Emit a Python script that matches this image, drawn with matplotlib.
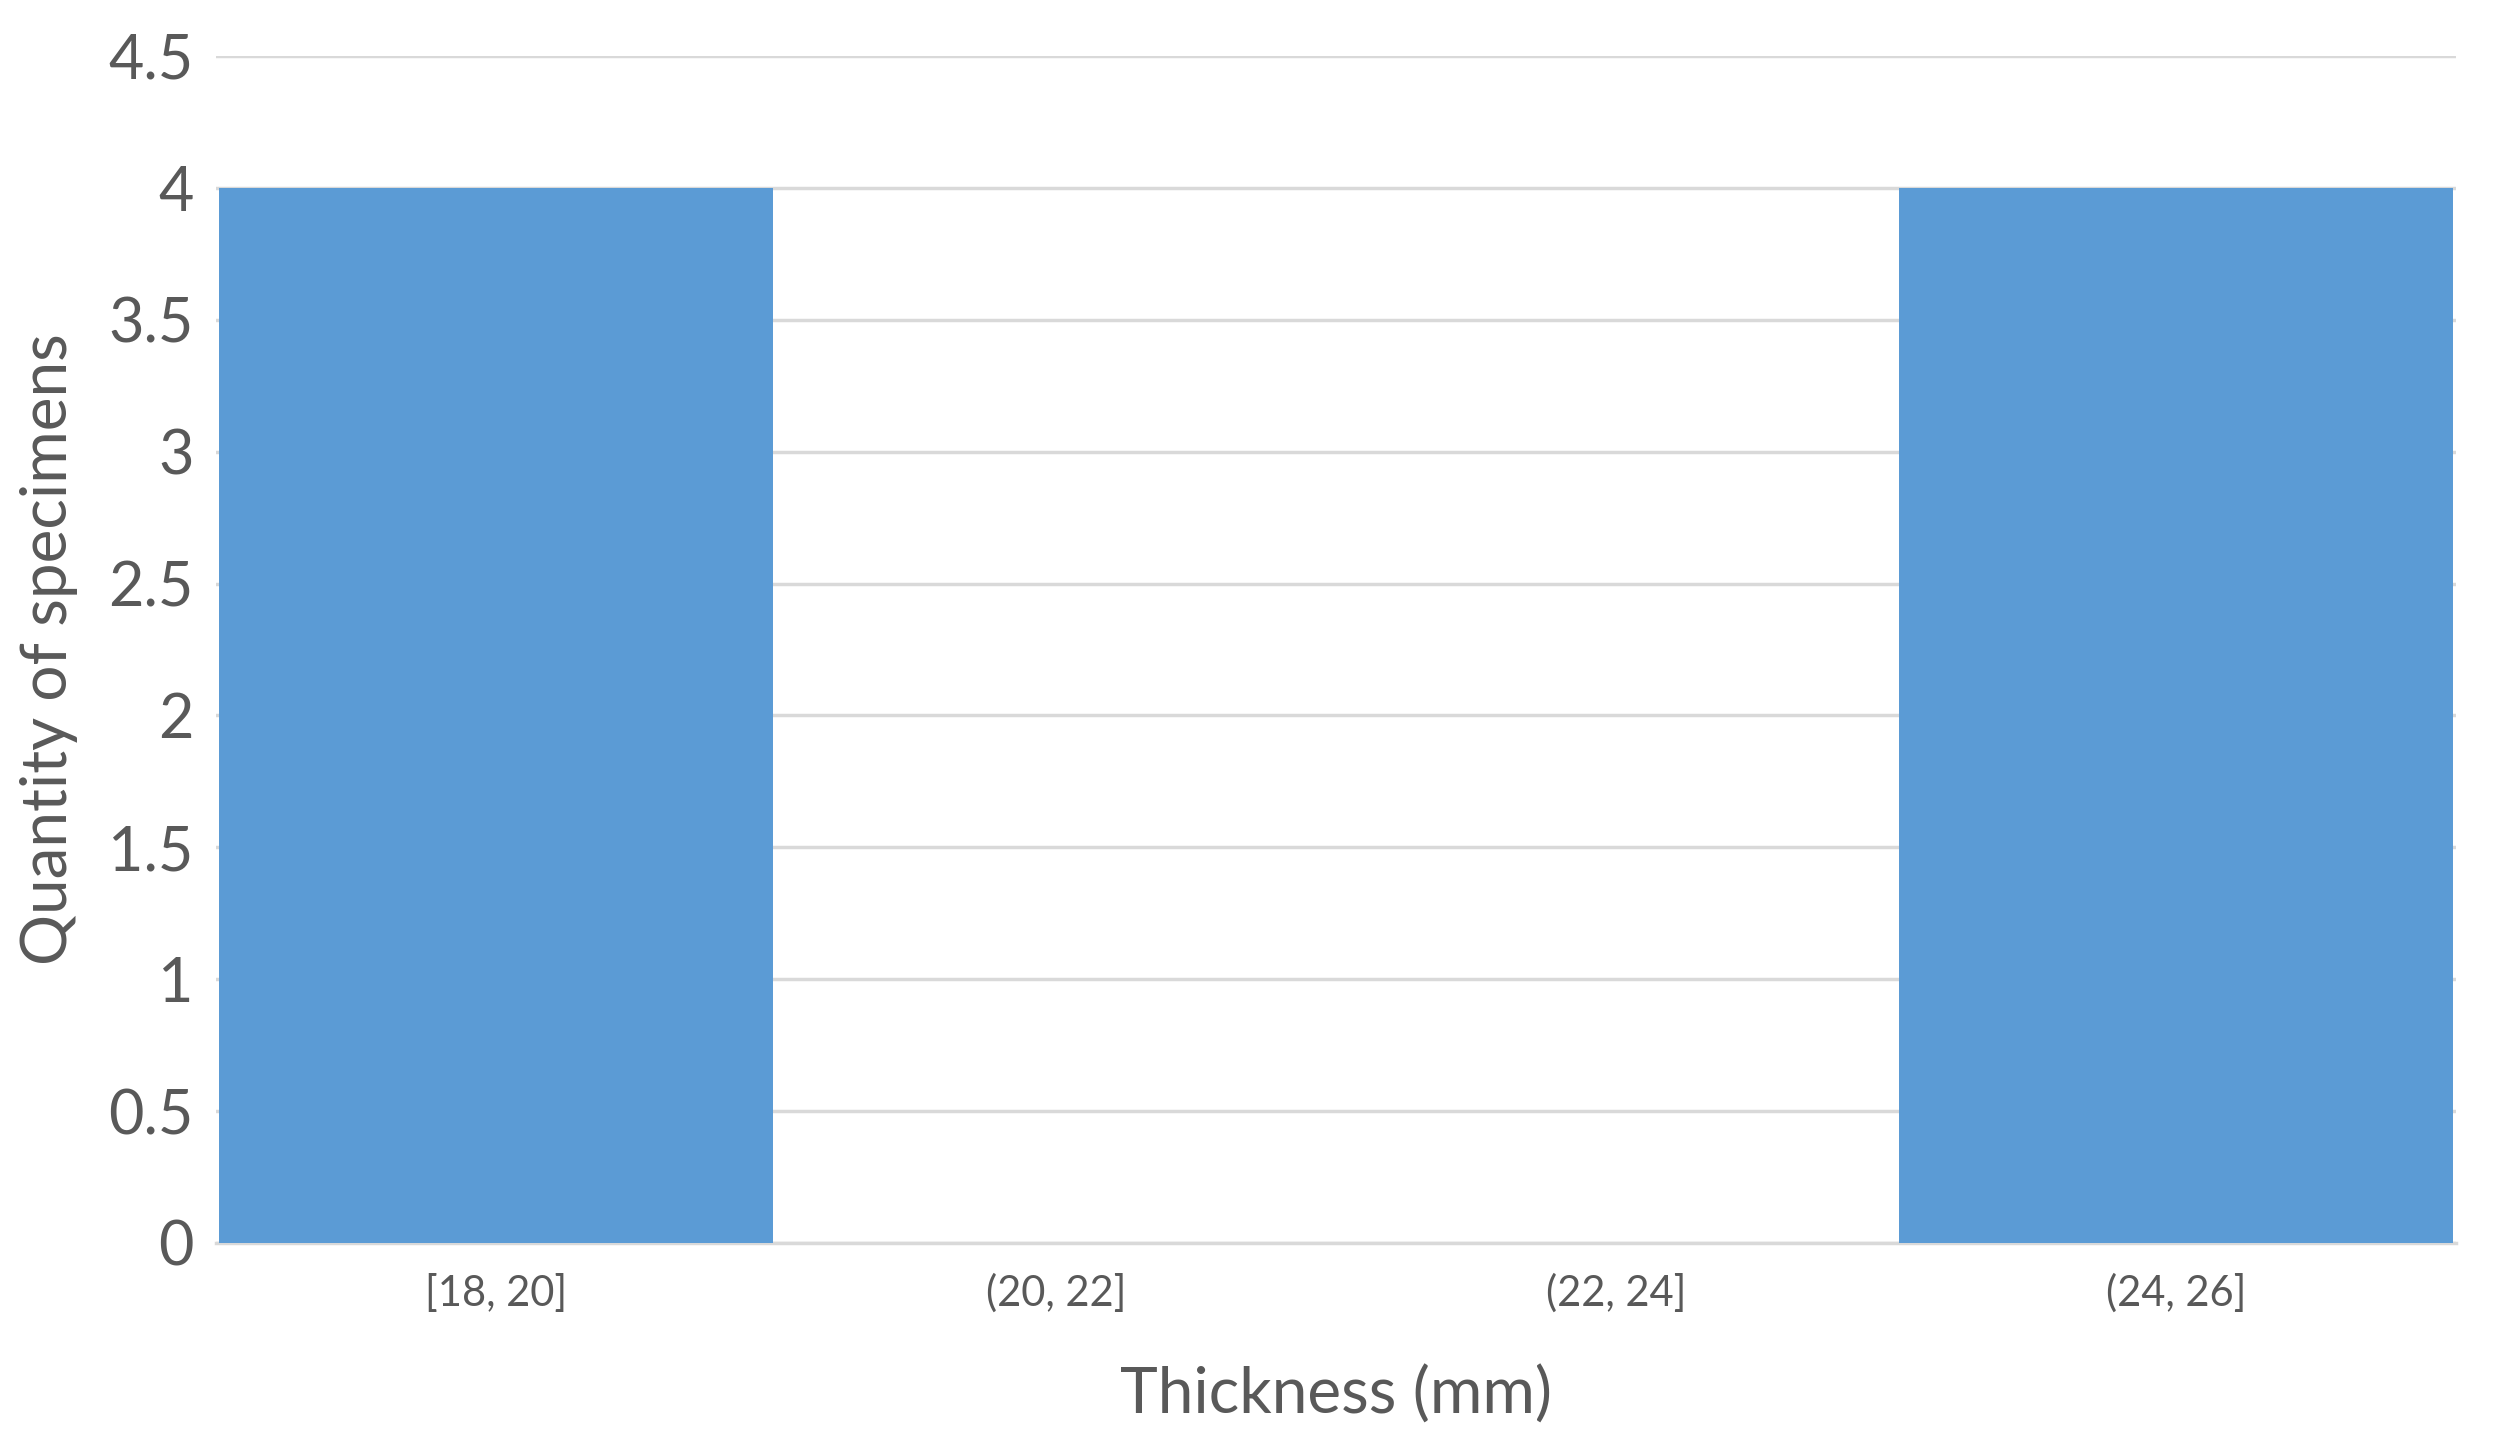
import matplotlib
matplotlib.use('Agg')
import matplotlib.pyplot as plt
import numpy as np

bins = ['[18, 20]', '(20, 22]', '(22, 24]', '(24, 26]']
counts = [4, 0, 0, 4]
yticks = [0, 0.5, 1, 1.5, 2, 2.5, 3, 3.5, 4, 4.5]
ytick_labels = ['0', '0.5', '1', '1.5', '2', '2.5', '3', '3.5', '4', '4.5']

plt.rcParams['font.family'] = ['Lato', 'DejaVu Sans']
text_col = '#595959'
grid_col = '#d9d9d9'

fig = plt.figure(figsize=(25.09, 14.47), dpi=100)
ax = fig.add_axes([0.0861, 0.141, 0.8928, 0.8203])

x = np.arange(len(bins))
ax.bar(x, counts, width=0.99, color='#5b9bd5', zorder=3)

ax.set_xlim(-0.5, len(bins) - 0.5)
ax.set_ylim(0, 4.5)
ax.set_yticks(yticks)
ax.set_yticklabels(ytick_labels)
ax.set_xticks(x)
ax.set_xticklabels(bins)

ax.yaxis.grid(True, color=grid_col, linewidth=2.5, zorder=0)
ax.set_axisbelow(True)
for s in ['top', 'right', 'left']:
    ax.spines[s].set_visible(False)
ax.spines['bottom'].set_color(grid_col)
ax.spines['bottom'].set_linewidth(2.5)

ax.tick_params(axis='y', length=0, pad=16, labelsize=44, labelcolor=text_col)
ax.tick_params(axis='x', length=0, pad=22, labelsize=30, labelcolor=text_col)

ax.set_xlabel('Thickness (mm)', fontsize=46, color=text_col, labelpad=38)
ax.set_ylabel('Quantity of specimens', fontsize=46, color=text_col, labelpad=22)

fig.savefig('out.png', dpi=100, facecolor='white')
